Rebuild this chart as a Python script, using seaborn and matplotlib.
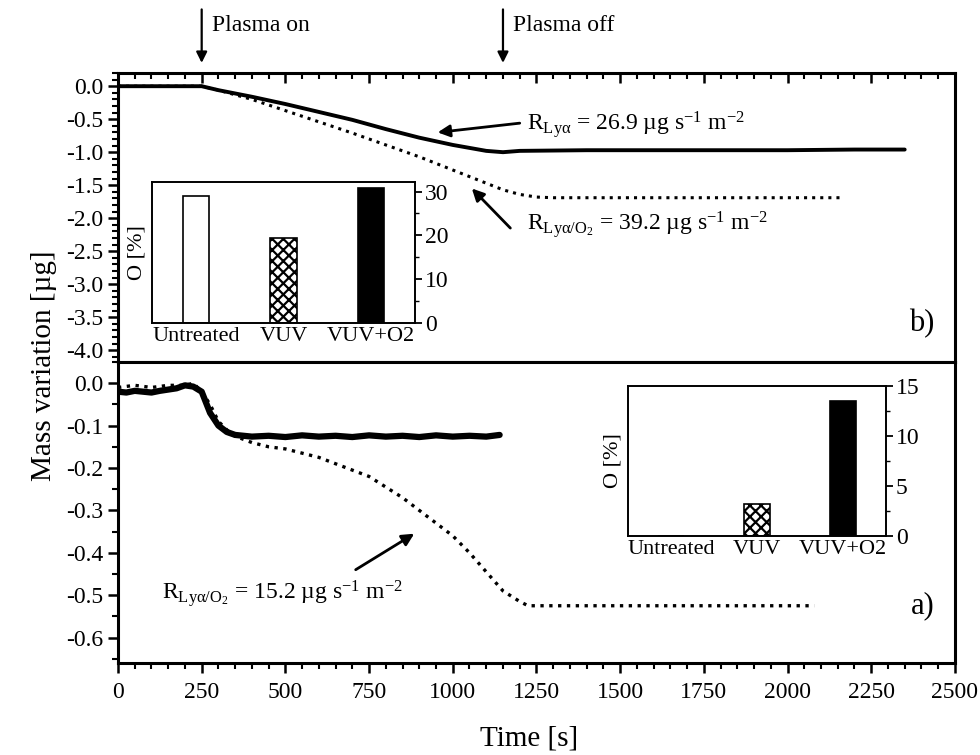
import matplotlib
matplotlib.use('Agg')
import matplotlib.pyplot as plt
import matplotlib.ticker as mticker
import seaborn as sns
import numpy as np
import pandas as pd

# ---- data ----
# panel b): top
t_b_lya = [0, 100, 200, 250, 300, 400, 500, 600, 700, 800, 900, 1000, 1100, 1150,
           1200, 1400, 1600, 1800, 2000, 2200, 2350]
m_b_lya = [0.0, 0.0, 0.0, 0.0, -0.06, -0.16, -0.27, -0.39, -0.51, -0.65, -0.78, -0.89,
           -0.98, -1.0, -0.98, -0.97, -0.97, -0.97, -0.97, -0.96, -0.96]
t_b_o2 = [0, 100, 200, 250, 300, 400, 500, 600, 700, 800, 900, 1000, 1100, 1150,
          1200, 1250, 1300, 1500, 1700, 1900, 2100, 2170]
m_b_o2 = [0.0, 0.0, 0.0, 0.0, -0.06, -0.2, -0.37, -0.54, -0.71, -0.89, -1.07, -1.27,
          -1.47, -1.57, -1.64, -1.68, -1.69, -1.69, -1.69, -1.69, -1.69, -1.69]

# panel a): bottom
t_a_lya = [0, 25, 50, 75, 100, 125, 150, 175, 200, 225, 250, 275, 300, 325, 350,
           400, 450, 500, 550, 600, 650, 700, 750, 800, 850, 900, 950, 1000, 1050,
           1100, 1140]
m_a_lya = [-0.02, -0.022, -0.018, -0.02, -0.022, -0.018, -0.015, -0.012, -0.005, -0.008,
           -0.02, -0.07, -0.1, -0.115, -0.122, -0.126, -0.124, -0.127, -0.123, -0.126,
           -0.124, -0.127, -0.123, -0.126, -0.124, -0.127, -0.123, -0.126, -0.124,
           -0.126, -0.122]
t_a_o2 = [0, 50, 100, 150, 200, 225, 250, 275, 300, 325, 350, 400, 450, 500, 550,
          600, 650, 700, 750, 800, 850, 900, 950, 1000, 1050, 1100, 1150, 1200,
          1225, 1250, 1400, 1600, 1800, 2000, 2080]
m_a_o2 = [-0.01, -0.005, -0.01, -0.005, -0.005, 0.0, -0.02, -0.05, -0.09, -0.11,
          -0.125, -0.14, -0.15, -0.155, -0.165, -0.175, -0.19, -0.205, -0.22, -0.245,
          -0.27, -0.3, -0.33, -0.36, -0.4, -0.445, -0.49, -0.515, -0.525, -0.525,
          -0.525, -0.525, -0.525, -0.525, -0.525]

# insets: oxygen content
treatments = ['Untreated', 'VUV', 'VUV+O2']
o_pct_b = [29.0, 19.5, 30.8]
o_pct_a = [0.0, 3.2, 13.5]

plasma_on = 250
plasma_off = 1150

# ---- style ----
sns.set_theme(style='ticks')
plt.rcParams['font.family'] = ['Liberation Serif', 'DejaVu Serif']
plt.rcParams['mathtext.fontset'] = 'custom'
plt.rcParams['mathtext.rm'] = 'Liberation Serif'
plt.rcParams['mathtext.it'] = 'Liberation Serif:italic'
plt.rcParams['hatch.linewidth'] = 1.6
for k in ['axes.edgecolor', 'xtick.color', 'ytick.color', 'text.color',
          'axes.labelcolor', 'xtick.labelcolor', 'ytick.labelcolor']:
    plt.rcParams[k] = 'black'

fig = plt.figure(figsize=(9.8, 7.55), dpi=100)
ax_b = fig.add_axes([0.1204, 0.5205, 0.854, 0.3828])
ax_a = fig.add_axes([0.1204, 0.1219, 0.854, 0.3986])

for ax in (ax_a, ax_b):
    for s in ax.spines.values():
        s.set_linewidth(2.2)
        s.set_visible(True)
    ax.set_xlim(0, 2500)
    ax.xaxis.set_major_locator(mticker.MultipleLocator(250))
    ax.xaxis.set_minor_locator(mticker.MultipleLocator(50))
    ax.tick_params(axis='both', which='major', length=7, width=1.8, labelsize=17)
    ax.tick_params(axis='both', which='minor', length=4, width=1.5)
    ax.set_xlabel('')
    ax.set_ylabel('')

# top panel b)
sns.lineplot(x=t_b_lya, y=m_b_lya, ax=ax_b, color='black', lw=2.8)
sns.lineplot(x=t_b_o2, y=m_b_o2, ax=ax_b, color='black', lw=2.2, linestyle=':')
ax_b.set_ylim(-4.18, 0.2)
ax_b.yaxis.set_major_locator(mticker.MultipleLocator(0.5))
ax_b.yaxis.set_minor_locator(mticker.MultipleLocator(0.1))
ax_b.yaxis.set_major_formatter(mticker.FormatStrFormatter('%.1f'))
ax_b.tick_params(axis='x', which='both', bottom=False, top=True, direction='in',
                 labelbottom=False)
ax_b.tick_params(axis='y', which='both', direction='out', right=False)
ax_b.text(2440, -3.6, 'b)', fontsize=22, ha='right', va='center')

arrow_kw = dict(arrowstyle='-|>', color='black', lw=2, mutation_scale=18,
                shrinkA=0, shrinkB=0)
ax_b.annotate('', xy=(955, -0.70), xytext=(1200, -0.56), arrowprops=arrow_kw)
ax_b.text(1222, -0.58, r'R$_{\mathrm{Ly\alpha}}$ = 26.9 µg s$^{-1}$ m$^{-2}$',
          fontsize=17, va='center')
ax_b.annotate('', xy=(1057, -1.55), xytext=(1172, -2.15), arrowprops=arrow_kw)
ax_b.text(1222, -2.1, r'R$_{\mathrm{Ly\alpha / O_2}}$ = 39.2 µg s$^{-1}$ m$^{-2}$',
          fontsize=17, va='center')

for t0, lab in [(plasma_on, 'Plasma on'), (plasma_off, 'Plasma off')]:
    ax_b.annotate('', xy=(t0, 1.035), xytext=(t0, 1.22),
                  xycoords=('data', 'axes fraction'), textcoords=('data', 'axes fraction'),
                  arrowprops=dict(arrowstyle='-|>', color='black', lw=1.6,
                                  mutation_scale=16, shrinkA=0, shrinkB=0))
    ax_b.text(t0 + 30, 1.165, lab, transform=ax_b.get_xaxis_transform(),
              fontsize=17, va='center', ha='left')

# bottom panel a)
sns.lineplot(x=t_a_lya, y=m_a_lya, ax=ax_a, color='black', lw=4.5)
sns.lineplot(x=t_a_o2, y=m_a_o2, ax=ax_a, color='black', lw=2.4, linestyle=':')
ax_a.set_ylim(-0.66, 0.05)
ax_a.yaxis.set_major_locator(mticker.MultipleLocator(0.1))
ax_a.yaxis.set_minor_locator(mticker.MultipleLocator(0.05))
ax_a.yaxis.set_major_formatter(mticker.FormatStrFormatter('%.1f'))
ax_a.tick_params(axis='x', which='both', direction='out', top=False, pad=7)
ax_a.tick_params(axis='y', which='both', direction='out', right=False)
ax_a.text(2440, -0.525, 'a)', fontsize=22, ha='right', va='center')
ax_a.annotate('', xy=(885, -0.355), xytext=(710, -0.44), arrowprops=arrow_kw)
ax_a.text(130, -0.495, r'R$_{\mathrm{Ly\alpha / O_2}}$ = 15.2 µg s$^{-1}$ m$^{-2}$',
          fontsize=17, va='center')

fig.text(0.045, 0.515, 'Mass variation [µg]', rotation=90, fontsize=21,
         ha='center', va='center')
fig.text(0.54, 0.022, 'Time [s]', fontsize=21, ha='center', va='center')


def inset(rect, vals, ymax, ticks):
    ax = fig.add_axes(rect)
    df = pd.DataFrame({'treatment': treatments, 'O': vals})
    sns.barplot(data=df, x='treatment', y='O', hue='treatment', ax=ax,
                palette=['white', 'white', 'black'], width=0.3, legend=False,
                edgecolor='black', linewidth=1.2, saturation=1)
    ax.patches[1].set_hatch('xxx')
    ax.set_xlim(-0.5, 2.5)
    ax.set_ylim(0, ymax)
    ax.set_yticks(ticks)
    ax.yaxis.set_minor_locator(mticker.MultipleLocator(ticks[1] / 2))
    ax.yaxis.tick_right()
    ax.tick_params(axis='y', which='major', length=5, width=1.3, labelsize=17, pad=2)
    ax.tick_params(axis='y', which='minor', length=3, width=1.0)
    ax.tick_params(axis='x', length=0, labelsize=16, pad=3)
    ax.set_xlabel('')
    ax.set_ylabel('O [%]', fontsize=16, labelpad=4)
    ax.yaxis.set_label_position('left')
    for s in ax.spines.values():
        s.set_visible(True)
        s.set_linewidth(1.4)
    return ax


inset([0.1551, 0.5722, 0.2684, 0.1868], o_pct_b, 32.2, [0, 10, 20, 30])
inset([0.6408, 0.2901, 0.2633, 0.1987], o_pct_a, 15.0, [0, 5, 10, 15])

fig.savefig('out.png', dpi=100)
